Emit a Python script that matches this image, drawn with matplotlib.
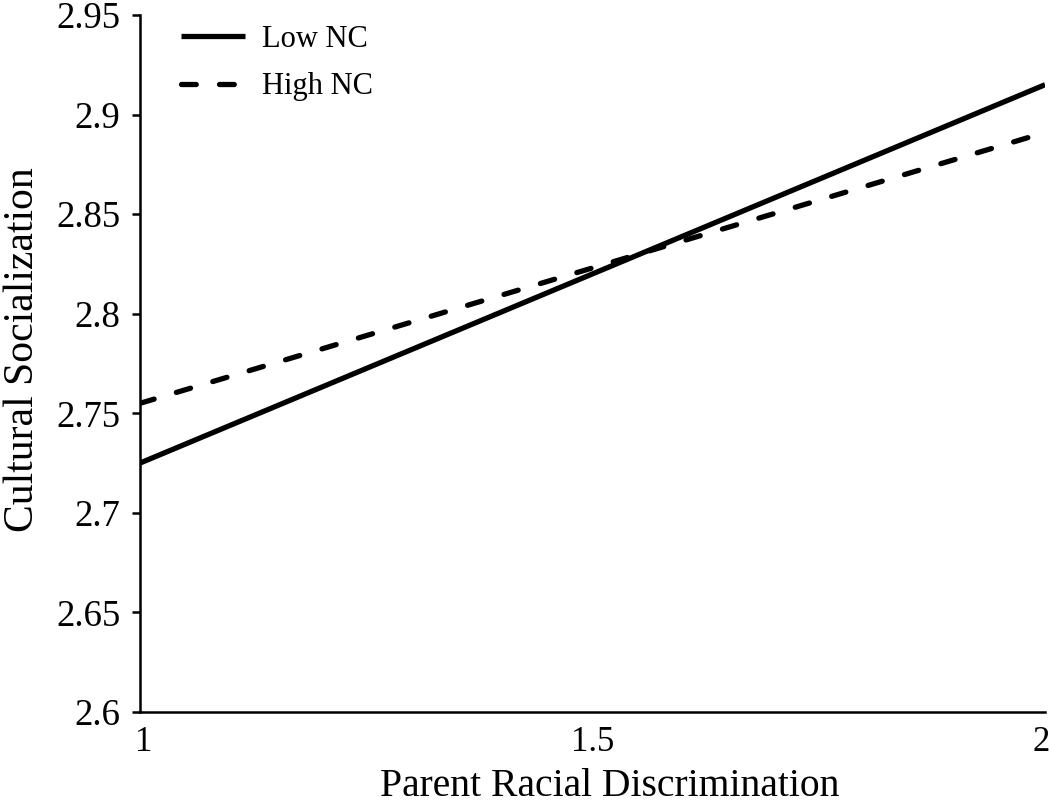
import matplotlib
matplotlib.use("Agg")
import matplotlib.pyplot as plt
from matplotlib.transforms import ScaledTranslation

plt.rcParams["font.family"] = ["Liberation Serif", "DejaVu Serif"]

# Simple slopes: cultural socialization by parent racial discrimination
x_vals = [1, 2]
low_nc = [2.725, 2.915]
high_nc = [2.755, 2.891]
x_ticks = [1, 1.5, 2]
x_tick_labels = ["1", "1.5", "2"]
y_ticks = [2.6, 2.65, 2.7, 2.75, 2.8, 2.85, 2.9, 2.95]
y_tick_labels = ["2.6", "2.65", "2.7", "2.75", "2.8", "2.85", "2.9", "2.95"]

fig = plt.figure(figsize=(10.5, 8.07), dpi=100)
ax = fig.add_axes([0.1333, 0.1177, 0.862, 0.8637])

ax.plot(x_vals, low_nc, color="black", lw=3.8, solid_capstyle="butt", label="Low NC")
ax.plot(x_vals, high_nc, color="black", lw=3.8, dashes=(2.8, 4.4),
        dash_capstyle="round", label="High NC")

ax.set_xlim(1, 2)
ax.set_ylim(2.6, 2.95)
ax.set_xticks(x_ticks)
ax.set_xticklabels(x_tick_labels)
ax.set_yticks(y_ticks)
ax.set_yticklabels(y_tick_labels)

for side in ("top", "right"):
    ax.spines[side].set_visible(False)
for side in ("left", "bottom"):
    ax.spines[side].set_linewidth(1.8)

ax.tick_params(axis="y", direction="out", length=6, width=1.8, labelsize=26.5, pad=8)
ax.tick_params(axis="x", length=0, labelsize=25, pad=10)

# nudge the end labels inward a little, like the original
xlabels = ax.get_xticklabels()
xlabels[0].set_transform(xlabels[0].get_transform() + ScaledTranslation(4 / 100, 0, fig.dpi_scale_trans))
xlabels[-1].set_transform(xlabels[-1].get_transform() + ScaledTranslation(-4 / 100, 0, fig.dpi_scale_trans))

ax.set_xlabel("Parent Racial Discrimination", fontsize=28.5)
ax.xaxis.set_label_coords(0.519, -0.081)
ax.set_ylabel("Cultural Socialization", fontsize=30)
ax.yaxis.set_label_coords(-0.108, 0.52)

ax.legend(loc="upper left", bbox_to_anchor=(0.015, 1.025), frameon=False,
          fontsize=22, handlelength=2.1, handletextpad=0.55, labelspacing=0.6)

fig.savefig("out.png", dpi=100)
